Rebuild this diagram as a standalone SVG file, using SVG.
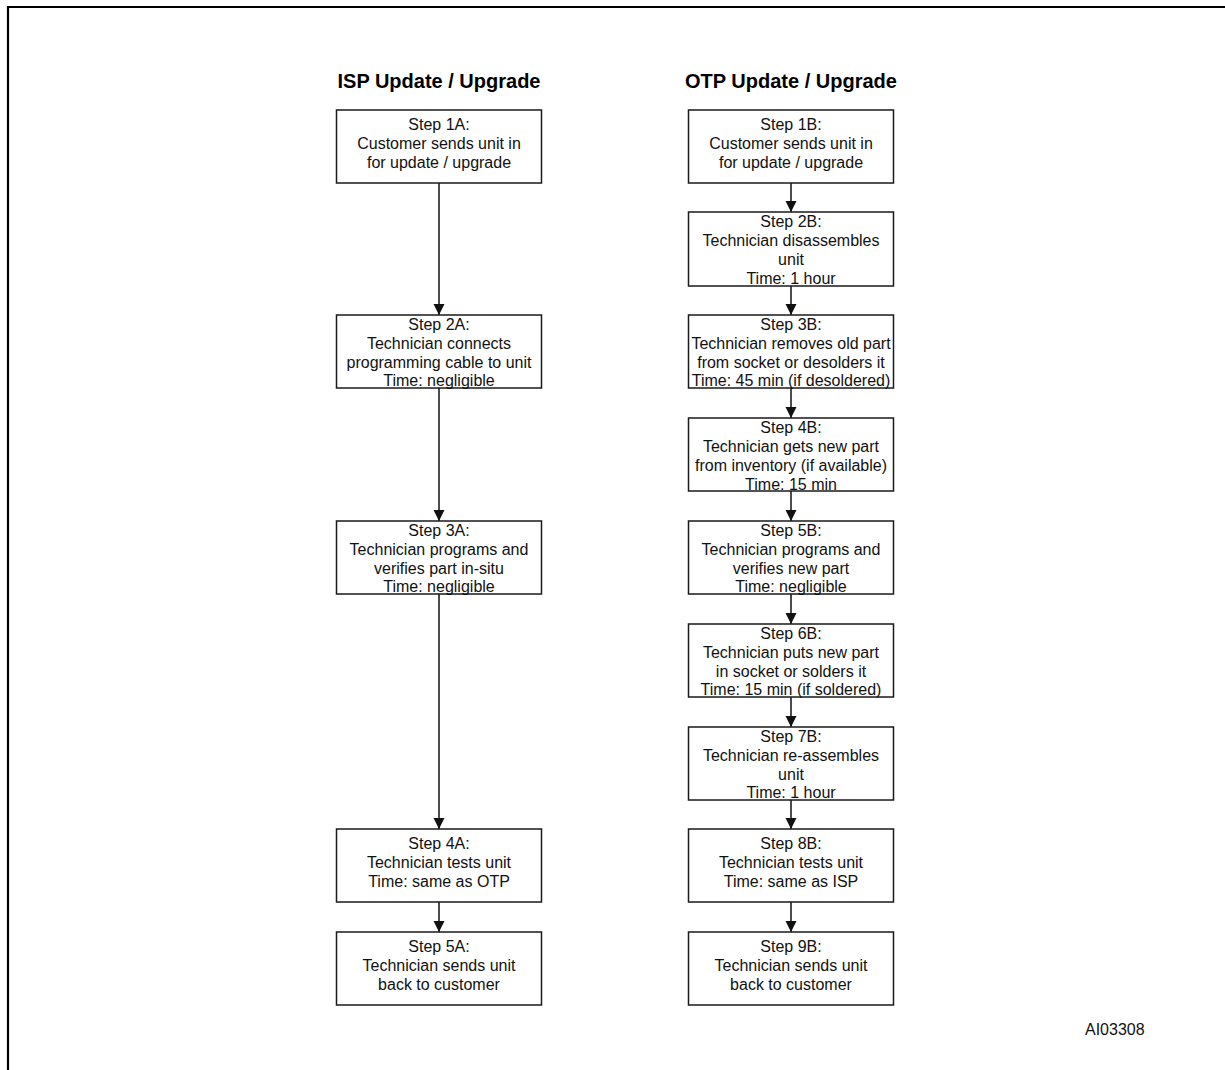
<svg xmlns="http://www.w3.org/2000/svg" width="1225" height="1070" viewBox="0 0 1225 1070">
<style>
.frame{fill:none;stroke:#000;stroke-width:2.2}
.box{fill:#fff;stroke:#1a1a1a;stroke-width:1.5}
.t{font-family:"Liberation Sans",Arial,sans-serif;font-size:16px;fill:#111;text-anchor:middle}
.h{font-family:"Liberation Sans",Arial,sans-serif;font-size:20px;font-weight:bold;fill:#000;text-anchor:middle}
.lbl{font-family:"Liberation Sans",Arial,sans-serif;font-size:16px;fill:#111}
.c{fill:none;stroke:#111;stroke-width:1.5}
</style>
<defs>
<marker id="ah" markerUnits="userSpaceOnUse" markerWidth="12" markerHeight="12" refX="11" refY="6" orient="auto">
<path d="M0,0.5 L11,6 L0,11.5 z" fill="#111"/>
</marker>
</defs>
<rect width="1225" height="1070" fill="#fff"/>
<path class="frame" d="M8,1070 V7 H1225"/>
<text class="h" x="439" y="88">ISP Update / Upgrade</text>
<text class="h" x="791" y="88">OTP Update / Upgrade</text>

<g id="connectors">
<line class="c" x1="439" y1="183" x2="439" y2="315" marker-end="url(#ah)"/>
<line class="c" x1="439" y1="388" x2="439" y2="521" marker-end="url(#ah)"/>
<line class="c" x1="439" y1="594" x2="439" y2="829" marker-end="url(#ah)"/>
<line class="c" x1="439" y1="902" x2="439" y2="932" marker-end="url(#ah)"/>
<line class="c" x1="791" y1="183" x2="791" y2="212" marker-end="url(#ah)"/>
<line class="c" x1="791" y1="286" x2="791" y2="315" marker-end="url(#ah)"/>
<line class="c" x1="791" y1="388" x2="791" y2="418" marker-end="url(#ah)"/>
<line class="c" x1="791" y1="491" x2="791" y2="521" marker-end="url(#ah)"/>
<line class="c" x1="791" y1="594" x2="791" y2="624" marker-end="url(#ah)"/>
<line class="c" x1="791" y1="697" x2="791" y2="727" marker-end="url(#ah)"/>
<line class="c" x1="791" y1="800" x2="791" y2="829" marker-end="url(#ah)"/>
<line class="c" x1="791" y1="902" x2="791" y2="932" marker-end="url(#ah)"/>
</g>

<g id="step1A"><rect class="box" x="336.5" y="110" width="205" height="73"/>
<text class="t"><tspan x="439" y="130">Step 1A:</tspan><tspan x="439" y="149">Customer sends unit in</tspan><tspan x="439" y="168">for update / upgrade</tspan></text></g>
<g id="step2A"><rect class="box" x="336.5" y="315" width="205" height="73"/>
<text class="t"><tspan x="439" y="329.5">Step 2A:</tspan><tspan x="439" y="348.5">Technician connects</tspan><tspan x="439" y="367.5">programming cable to unit</tspan><tspan x="439" y="386">Time: negligible</tspan></text></g>
<g id="step3A"><rect class="box" x="336.5" y="521" width="205" height="73"/>
<text class="t"><tspan x="439" y="535.5">Step 3A:</tspan><tspan x="439" y="554.5">Technician programs and</tspan><tspan x="439" y="573.5">verifies part in-situ</tspan><tspan x="439" y="592">Time: negligible</tspan></text></g>
<g id="step4A"><rect class="box" x="336.5" y="829" width="205" height="73"/>
<text class="t"><tspan x="439" y="849">Step 4A:</tspan><tspan x="439" y="868">Technician tests unit</tspan><tspan x="439" y="887">Time: same as OTP</tspan></text></g>
<g id="step5A"><rect class="box" x="336.5" y="932" width="205" height="73"/>
<text class="t"><tspan x="439" y="952">Step 5A:</tspan><tspan x="439" y="971">Technician sends unit</tspan><tspan x="439" y="990">back to customer</tspan></text></g>

<g id="step1B"><rect class="box" x="688.5" y="110" width="205" height="73"/>
<text class="t"><tspan x="791" y="130">Step 1B:</tspan><tspan x="791" y="149">Customer sends unit in</tspan><tspan x="791" y="168">for update / upgrade</tspan></text></g>
<g id="step2B"><rect class="box" x="688.5" y="212" width="205" height="74"/>
<text class="t"><tspan x="791" y="226.5">Step 2B:</tspan><tspan x="791" y="245.5">Technician disassembles</tspan><tspan x="791" y="264.5">unit</tspan><tspan x="791" y="283.5">Time: 1 hour</tspan></text></g>
<g id="step3B"><rect class="box" x="688.5" y="315" width="205" height="73"/>
<text class="t"><tspan x="791" y="329.5">Step 3B:</tspan><tspan x="791" y="348.5">Technician removes old part</tspan><tspan x="791" y="367.5">from socket or desolders it</tspan><tspan x="791" y="386">Time: 45 min (if desoldered)</tspan></text></g>
<g id="step4B"><rect class="box" x="688.5" y="418" width="205" height="73"/>
<text class="t"><tspan x="791" y="432.5">Step 4B:</tspan><tspan x="791" y="451.5">Technician gets new part</tspan><tspan x="791" y="470.5">from inventory (if available)</tspan><tspan x="791" y="489.5">Time: 15 min</tspan></text></g>
<g id="step5B"><rect class="box" x="688.5" y="521" width="205" height="73"/>
<text class="t"><tspan x="791" y="535.5">Step 5B:</tspan><tspan x="791" y="554.5">Technician programs and</tspan><tspan x="791" y="573.5">verifies new part</tspan><tspan x="791" y="592">Time: negligible</tspan></text></g>
<g id="step6B"><rect class="box" x="688.5" y="624" width="205" height="73"/>
<text class="t"><tspan x="791" y="638.5">Step 6B:</tspan><tspan x="791" y="657.5">Technician puts new part</tspan><tspan x="791" y="676.5">in socket or solders it</tspan><tspan x="791" y="695">Time: 15 min (if soldered)</tspan></text></g>
<g id="step7B"><rect class="box" x="688.5" y="727" width="205" height="73"/>
<text class="t"><tspan x="791" y="741.5">Step 7B:</tspan><tspan x="791" y="760.5">Technician re-assembles</tspan><tspan x="791" y="779.5">unit</tspan><tspan x="791" y="798">Time: 1 hour</tspan></text></g>
<g id="step8B"><rect class="box" x="688.5" y="829" width="205" height="73"/>
<text class="t"><tspan x="791" y="849">Step 8B:</tspan><tspan x="791" y="868">Technician tests unit</tspan><tspan x="791" y="887">Time: same as ISP</tspan></text></g>
<g id="step9B"><rect class="box" x="688.5" y="932" width="205" height="73"/>
<text class="t"><tspan x="791" y="952">Step 9B:</tspan><tspan x="791" y="971">Technician sends unit</tspan><tspan x="791" y="990">back to customer</tspan></text></g>

<text class="lbl" x="1085" y="1035">AI03308</text>
</svg>
